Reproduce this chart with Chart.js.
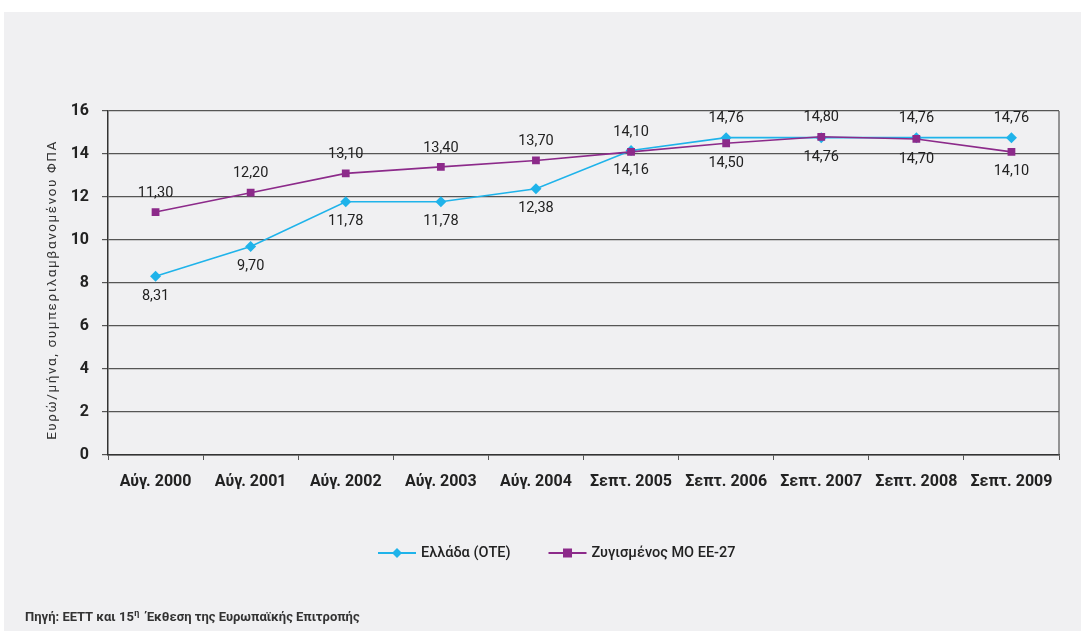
<!DOCTYPE html>
<html>
<head>
<meta charset="utf-8">
<script src="https://cdn.jsdelivr.net/npm/chart.js@4.4.1/dist/chart.umd.min.js"></script>
<style>
  html, body { margin: 0; padding: 0; background: #ffffff; }
  canvas { display: block; }
</style>
</head>
<body>
<canvas id="c" width="1081" height="631"></canvas>
<script>
const categories = ['Αύγ. 2000', 'Αύγ. 2001', 'Αύγ. 2002', 'Αύγ. 2003', 'Αύγ. 2004',
                    'Σεπτ. 2005', 'Σεπτ. 2006', 'Σεπτ. 2007', 'Σεπτ. 2008', 'Σεπτ. 2009'];
const greeceValues = [8.31, 9.70, 11.78, 11.78, 12.38, 14.16, 14.76, 14.76, 14.76, 14.76];
const euValues = [11.30, 12.20, 13.10, 13.40, 13.70, 14.10, 14.50, 14.80, 14.70, 14.10];
const greeceLabelSide = ['below','below','below','below','below','below','above','below','above','above'];
const euLabelSide = ['above','above','above','above','above','above','below','above','below','below'];
const yTickValues = [0, 2, 4, 6, 8, 10, 12, 14, 16];
const seriesNames = ['Ελλάδα (ΟΤΕ)', 'Ζυγισμένος ΜΟ ΕΕ-27'];
const yAxisTitle = 'Ευρώ/μήνα, συμπεριλαμβανομένου ΦΠΑ';
const sourceParts = ['Πηγή: ΕΕΤΤ και 15', 'η', ' Έκθεση της Ευρωπαϊκής Επιτροπής'];

const BLUE = '#1fb3ea';
const PURPLE = '#8c2a8a';
const FONT = 'Roboto, "Liberation Sans", sans-serif';
const labelSides = [greeceLabelSide, euLabelSide];

function fmt(v) { return v.toFixed(2).replace('.', ','); }

const backgroundPlugin = {
  id: 'bgPanel',
  beforeDraw(chart) {
    const ctx = chart.ctx;
    ctx.save();
    ctx.fillStyle = '#ffffff';
    ctx.fillRect(0, 0, chart.width, chart.height);
    ctx.fillStyle = '#f0f0f2';
    ctx.fillRect(4, 12, chart.width - 4, chart.height - 12);
    ctx.restore();
  },
  afterDraw(chart) {
    const ctx = chart.ctx;
    const a = chart.chartArea;
    ctx.save();
    ctx.strokeStyle = '#555';
    ctx.lineWidth = 1.2;
    ctx.beginPath();
    ctx.moveTo(a.right, a.top);
    ctx.lineTo(a.right, a.bottom);
    ctx.stroke();
    // y axis title (spaced lettering)
    ctx.translate(53, (a.top + a.bottom) / 2 + 7);
    ctx.rotate(-Math.PI / 2);
    ctx.font = '13.5px ' + FONT;
    if ('letterSpacing' in ctx) ctx.letterSpacing = '1.6px';
    ctx.fillStyle = '#333';
    ctx.textAlign = 'center';
    ctx.textBaseline = 'middle';
    ctx.fillText(yAxisTitle, 0, 0);
    ctx.restore();
  }
};

const valueLabelPlugin = {
  id: 'valueLabels',
  afterDatasetsDraw(chart) {
    const ctx = chart.ctx;
    ctx.save();
    ctx.font = '14.5px ' + FONT;
    ctx.fillStyle = '#222';
    ctx.textAlign = 'center';
    ctx.textBaseline = 'middle';
    chart.data.datasets.forEach((ds, i) => {
      const meta = chart.getDatasetMeta(i);
      meta.data.forEach((pt, j) => {
        const above = labelSides[i][j] === 'above';
        ctx.fillText(fmt(ds.data[j]), pt.x, pt.y + (above ? -19 : 20));
      });
    });
    ctx.restore();
  }
};

const legendPlugin = {
  id: 'customLegend',
  afterDraw(chart) {
    const ctx = chart.ctx;
    const y = 553;
    let x = 378;
    ctx.save();
    ctx.font = '500 14.5px ' + FONT;
    ctx.textBaseline = 'middle';
    ctx.textAlign = 'left';
    chart.data.datasets.forEach((ds) => {
      ctx.strokeStyle = ds.borderColor;
      ctx.lineWidth = 2;
      ctx.beginPath();
      ctx.moveTo(x, y);
      ctx.lineTo(x + 38, y);
      ctx.stroke();
      ctx.fillStyle = ds.backgroundColor;
      const cx = x + 19;
      if (ds.pointStyle === 'rectRot') {
        ctx.beginPath();
        ctx.moveTo(cx, y - 5); ctx.lineTo(cx + 5, y); ctx.lineTo(cx, y + 5); ctx.lineTo(cx - 5, y);
        ctx.closePath(); ctx.fill();
      } else {
        ctx.fillRect(cx - 4.5, y - 4.5, 9, 9);
      }
      ctx.fillStyle = '#222';
      ctx.fillText(ds.label, x + 43, y);
      x += 43 + ctx.measureText(ds.label).width + 38;
    });
    // source note
    ctx.font = 'bold 13px ' + FONT;
    ctx.fillStyle = '#333';
    ctx.textBaseline = 'alphabetic';
    let sx = 25;
    const sy = 621;
    ctx.fillText(sourceParts[0], sx, sy);
    sx += ctx.measureText(sourceParts[0]).width;
    ctx.font = 'bold 9px ' + FONT;
    ctx.fillText(sourceParts[1], sx + 0.5, sy - 5);
    sx += ctx.measureText(sourceParts[1]).width + 4;
    ctx.font = 'bold 13px ' + FONT;
    ctx.fillText(sourceParts[2], sx, sy);
    ctx.restore();
  }
};

new Chart(document.getElementById('c'), {
  type: 'line',
  data: {
    labels: categories,
    datasets: [
      {
        label: seriesNames[0],
        data: greeceValues,
        borderColor: BLUE,
        backgroundColor: BLUE,
        borderWidth: 1.6,
        pointStyle: 'rectRot',
        pointRadius: 5.5,
        pointBorderWidth: 0,
        tension: 0,
        order: 2
      },
      {
        label: seriesNames[1],
        data: euValues,
        borderColor: PURPLE,
        backgroundColor: PURPLE,
        borderWidth: 1.6,
        pointStyle: 'rect',
        pointRadius: 5.5,
        pointBorderWidth: 0,
        tension: 0,
        order: 1
      }
    ]
  },
  options: {
    responsive: false,
    animation: false,
    devicePixelRatio: 1,
    layout: { padding: { left: 0, top: 111, right: 22, bottom: 0 } },
    plugins: {
      legend: { display: false },
      tooltip: { enabled: false },
      title: { display: false }
    },
    scales: {
      x: {
        type: 'category',
        offset: true,
        grid: {
          offset: true,
          drawOnChartArea: false,
          drawTicks: true,
          tickLength: 5,
          color: '#555'
        },
        border: { color: '#333', width: 1.5 },
        ticks: {
          color: '#222',
          font: { family: FONT, size: 16, weight: 'bold' },
          padding: 12,
          maxRotation: 0,
          autoSkip: false
        },
        afterFit(scale) { scale.height = 176; }
      },
      y: {
        min: 0,
        max: 16,
        afterBuildTicks(scale) { scale.ticks = yTickValues.map(v => ({ value: v })); },
        grid: {
          color: '#555',
          lineWidth: 1.2,
          tickLength: 6,
          drawTicks: true
        },
        border: { color: '#333', width: 1.5 },
        ticks: {
          color: '#222',
          font: { family: FONT, size: 16, weight: 'bold' },
          padding: 13
        },
        title: { display: false },
        afterFit(scale) { scale.width = 108; }
      }
    }
  },
  plugins: [backgroundPlugin, valueLabelPlugin, legendPlugin]
});
</script>
</body>
</html>
